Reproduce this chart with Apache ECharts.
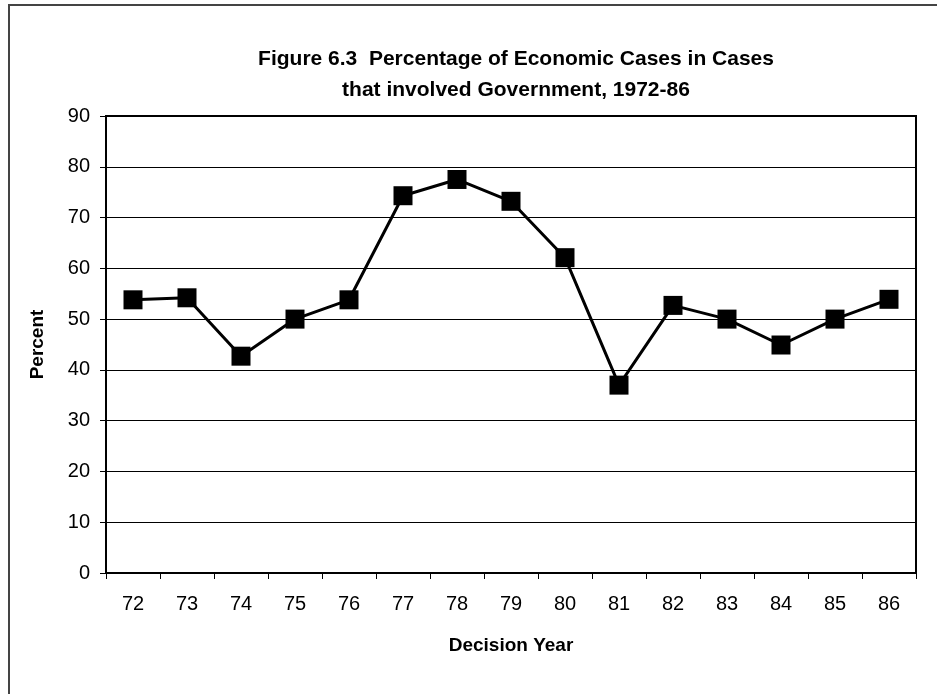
<!DOCTYPE html>
<html>
<head>
<meta charset="utf-8">
<script src="https://cdn.jsdelivr.net/npm/echarts@6/dist/echarts.min.js"></script>
<style>
  html, body { margin: 0; padding: 0; background: #fff; }
  #chart { width: 937px; height: 694px; }
</style>
</head>
<body>
<div id="chart"></div>
<script>
// Decision years (19xx) and share of economic cases involving government
const years = ['72', '73', '74', '75', '76', '77', '78', '79', '80', '81', '82', '83', '84', '85', '86'];
const percentValues = [53.8, 54.2, 42.7, 50.0, 53.8, 74.3, 77.5, 73.2, 62.1, 37.0, 52.7, 50.0, 44.9, 50.0, 53.9];
const titleLines = ['Figure 6.3  Percentage of Economic Cases in Cases', 'that involved Government, 1972-86'];

const chart = echarts.init(document.getElementById('chart'), null, { renderer: 'canvas' });
const font = 'Liberation Sans, Arial, sans-serif';

chart.setOption({
  backgroundColor: '#fff',
  animation: false,
  title: {
    text: titleLines.join('\n'),
    left: 511,
    textAlign: 'center',
    top: 39,
    textStyle: {
      fontFamily: font,
      fontSize: 21,
      fontWeight: 'bold',
      color: '#000',
      lineHeight: 31
    }
  },
  graphic: [
    {
      type: 'rect',
      shape: { x: 9, y: 5, width: 940, height: 700 },
      style: { fill: 'none', stroke: '#444', lineWidth: 2 },
      z: -1
    }
  ],
  grid: {
    left: 106,
    right: 21,
    top: 116,
    bottom: 121,
    show: true,
    borderColor: '#000',
    borderWidth: 2,
    backgroundColor: 'transparent'
  },
  xAxis: {
    type: 'category',
    data: years,
    boundaryGap: true,
    name: 'Decision Year',
    nameLocation: 'middle',
    nameGap: 63,
    nameTextStyle: { fontFamily: font, fontSize: 19, fontWeight: 'bold', color: '#000' },
    axisLine: { show: true, lineStyle: { color: '#000', width: 2 } },
    axisTick: { show: true, alignWithLabel: false, length: 6, lineStyle: { color: '#000', width: 1 } },
    axisLabel: { fontFamily: font, fontSize: 20, color: '#000', margin: 21 },
    splitLine: { show: false }
  },
  yAxis: {
    type: 'value',
    min: 0,
    max: 90,
    interval: 10,
    name: 'Percent',
    nameLocation: 'middle',
    nameGap: 59,
    nameRotate: 90,
    nameTextStyle: { fontFamily: font, fontSize: 19, fontWeight: 'bold', color: '#000' },
    axisLine: { show: true, lineStyle: { color: '#000', width: 2 } },
    axisTick: { show: true, length: 6, lineStyle: { color: '#000', width: 1 } },
    axisLabel: { fontFamily: font, fontSize: 20, color: '#000', margin: 16 },
    splitLine: { show: true, lineStyle: { color: '#000', width: 1 } }
  },
  series: [
    {
      type: 'line',
      data: percentValues,
      symbol: 'rect',
      symbolSize: 19,
      itemStyle: { color: '#000' },
      lineStyle: { color: '#000', width: 3 }
    }
  ]
});
</script>
</body>
</html>
